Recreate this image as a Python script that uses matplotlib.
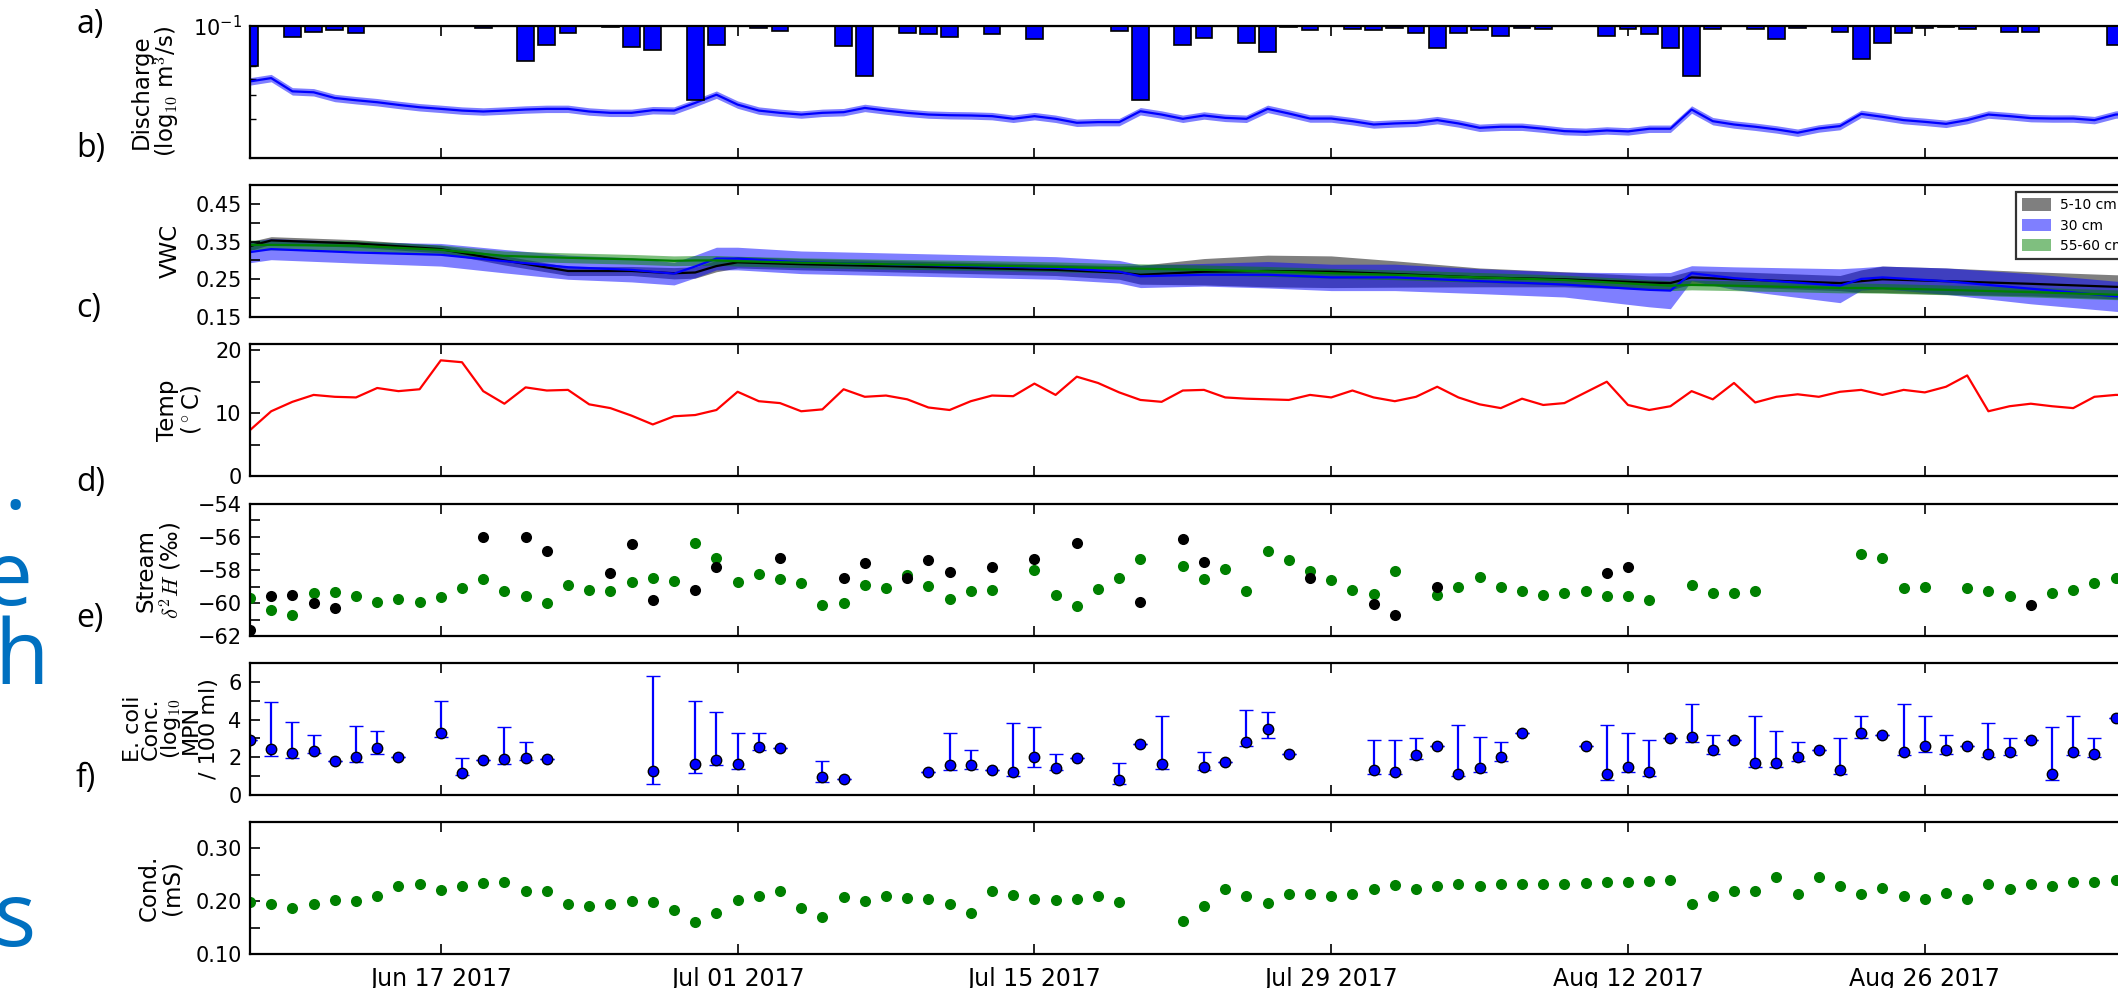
import numpy as np
import pandas as pd
import matplotlib
matplotlib.use("Agg")
import matplotlib.pyplot as plt
from matplotlib.ticker import FixedLocator, NullFormatter, LogLocator

plt.rcParams["font.family"] = ["DejaVu Sans"]

# ---------------------------------------------------------------- data
start = pd.Timestamp("2017-06-08")

# a) stream discharge (log10 m3/s), daily from start, and daily rain (mm)
discharge_log10 = [
    -1.418, -1.393, -1.493, -1.500, -1.543, -1.560, -1.575, -1.595, -1.613, -1.625,
    -1.638, -1.645, -1.638, -1.630, -1.625, -1.625, -1.645, -1.655, -1.655, -1.635,
    -1.638, -1.580, -1.518, -1.593, -1.638, -1.655, -1.668, -1.655, -1.650, -1.618,
    -1.638, -1.655, -1.668, -1.673, -1.675, -1.680, -1.700, -1.680, -1.700, -1.730,
    -1.725, -1.725, -1.643, -1.668, -1.700, -1.675, -1.693, -1.700, -1.625, -1.660,
    -1.698, -1.698, -1.718, -1.743, -1.735, -1.730, -1.710, -1.735, -1.768, -1.760,
    -1.760, -1.775, -1.793, -1.798, -1.788, -1.795, -1.775, -1.775, -1.630, -1.718,
    -1.743, -1.760, -1.780, -1.805, -1.773, -1.755, -1.663, -1.685, -1.710, -1.723,
    -1.738, -1.710, -1.668, -1.680, -1.695, -1.698, -1.698, -1.710, -1.668, -1.660,
    -1.665]
discharge_spread = 0.028

rain_days = [0, 2, 3, 4, 5, 11, 13, 14, 15, 17, 18, 19, 21, 22, 24, 25, 28, 29, 31, 32,
             33, 35, 37, 41, 42, 44, 45, 47, 48, 49, 50, 52, 53, 54, 55, 56, 57, 58, 59, 60,
             61, 64, 65, 66, 67, 68, 69, 71, 72, 73, 75, 76, 77, 78, 79, 80, 81, 83, 84, 88]
rain_mm = [12.2, 3.4, 1.7, 1.2, 2.2, 0.6, 10.5, 5.7, 2.2, 0.4, 6.5, 7.4, 22.5, 5.7, 0.7,
           1.4, 6.0, 15.0, 2.2, 2.5, 3.4, 2.5, 4.0, 1.4, 22.4, 5.7, 3.7, 5.2, 7.9, 0.4,
           1.2, 0.8, 1.2, 0.6, 2.0, 6.7, 2.2, 1.2, 2.9, 0.7, 1.0, 2.9, 1.0, 2.5, 6.7,
           15.2, 1.0, 1.0, 4.0, 0.5, 1.7, 9.9, 5.0, 2.0, 0.6, 0.4, 1.0, 1.7, 1.7, 5.7]

# b) volumetric water content by depth (mean and half-width of the band)
vwc_days = [0, 1, 5, 9, 12, 15, 18, 20, 21, 22, 23, 26, 30, 34, 38, 41, 42, 45, 48, 51,
            54, 58, 62, 66, 67, 68, 70, 75, 76, 77, 80, 84, 88, 90]
vwc_shallow = [0.338, 0.353, 0.345, 0.330, 0.300, 0.272, 0.272, 0.266, 0.268, 0.285,
               0.295, 0.290, 0.285, 0.280, 0.275, 0.268, 0.262, 0.270, 0.272, 0.270,
               0.264, 0.255, 0.250, 0.241, 0.240, 0.255, 0.250, 0.240, 0.245, 0.250,
               0.245, 0.238, 0.230, 0.228]
vwc_shallow_sd = [0.012, 0.010, 0.010, 0.010, 0.012, 0.012, 0.012, 0.015, 0.015, 0.015,
                  0.015, 0.015, 0.015, 0.015, 0.015, 0.018, 0.025, 0.035, 0.042, 0.042,
                  0.035, 0.025, 0.020, 0.018, 0.018, 0.018, 0.020, 0.020, 0.030, 0.035,
                  0.035, 0.032, 0.032, 0.032]
vwc_mid = [0.322, 0.330, 0.321, 0.315, 0.298, 0.282, 0.275, 0.265, 0.284, 0.305,
           0.305, 0.295, 0.290, 0.285, 0.280, 0.270, 0.258, 0.262, 0.262, 0.255,
           0.255, 0.245, 0.236, 0.222, 0.220, 0.266, 0.253, 0.233, 0.251, 0.255,
           0.245, 0.225, 0.205, 0.200]
vwc_mid_sd = [0.028, 0.028, 0.028, 0.030, 0.031, 0.032, 0.032, 0.030, 0.030, 0.030,
              0.030, 0.030, 0.030, 0.030, 0.030, 0.030, 0.030, 0.030, 0.035, 0.035,
              0.035, 0.033, 0.033, 0.045, 0.048, 0.020, 0.030, 0.045, 0.030, 0.030,
              0.035, 0.040, 0.040, 0.040]
vwc_deep = [0.341, 0.341, 0.339, 0.328, 0.312, 0.307, 0.303, 0.299, 0.300, 0.300,
            0.298, 0.294, 0.290, 0.287, 0.283, 0.279, 0.278, 0.275, 0.271, 0.266,
            0.262, 0.255, 0.248, 0.236, 0.233, 0.235, 0.233, 0.227, 0.227, 0.226,
            0.222, 0.216, 0.209, 0.206]
vwc_deep_sd = [0.013] * len(vwc_deep)
depth_labels = ["5-10 cm", "30 cm", "55-60 cm"]

# c) water temperature (deg C), daily from start
temp_c = [
    7.3, 10.3, 11.8, 12.9, 12.6, 12.5, 14.0, 13.5, 13.8, 18.4,
    18.1, 13.5, 11.5, 14.1, 13.6, 13.7, 11.4, 10.8, 9.6, 8.2,
    9.5, 9.7, 10.5, 13.4, 11.9, 11.6, 10.3, 10.6, 13.8, 12.6,
    12.8, 12.2, 10.9, 10.5, 11.9, 12.8, 12.7, 14.7, 12.9, 15.8,
    14.8, 13.3, 12.1, 11.8, 13.6, 13.7, 12.5, 12.3, 12.2, 12.1,
    12.9, 12.5, 13.6, 12.5, 11.9, 12.6, 14.2, 12.5, 11.4, 10.8,
    12.3, 11.3, 11.6, 13.3, 15.0, 11.3, 10.5, 11.1, 13.5, 12.2,
    14.8, 11.7, 12.6, 13.0, 12.6, 13.4, 13.7, 12.9, 13.7, 13.3,
    14.2, 16.0, 10.3, 11.1, 11.5, 11.1, 10.8, 12.6, 12.9, 12.9,
    13.0]

# d) stream d2H (permil): two sampling sets
d2h_green_days = [0, 1, 2, 3, 4, 5, 6, 7, 8, 9, 10, 11, 12, 13, 14, 15, 16, 17, 18, 19,
                  20, 21, 22, 23, 24, 25, 26, 27, 28, 29, 30, 31, 32, 33, 34, 35, 37, 38,
                  39, 40, 41, 42, 44, 45, 46, 47, 48, 49, 50, 51, 52, 53, 54, 56, 57, 58,
                  59, 60, 61, 62, 63, 64, 65, 66, 68, 69, 70, 71, 76, 77, 78, 79, 81, 82,
                  83, 85, 86, 87, 88]
d2h_green = [-59.70, -60.42, -60.73, -59.39, -59.35, -59.56, -59.91, -59.74, -59.95, -59.66,
             -59.09, -58.53, -59.29, -59.56, -60.01, -58.88, -59.19, -59.29, -58.72, -58.51,
             -58.64, -56.36, -57.28, -58.75, -58.24, -58.57, -58.79, -60.11, -60.03, -58.91,
             -59.11, -58.28, -58.97, -59.78, -59.30, -59.19, -58.03, -59.52, -60.17, -59.17,
             -58.48, -57.36, -57.75, -58.52, -57.95, -59.25, -56.87, -57.38, -58.09, -58.60,
             -59.19, -59.46, -58.07, -59.5, -59.0, -58.4, -59.0, -59.3, -59.5, -59.4,
             -59.3, -59.6, -59.6, -59.8, -58.9, -59.4, -59.4, -59.3, -57.0, -57.3,
             -59.1, -59.0, -59.1, -59.3, -59.6, -59.4, -59.2, -58.8, -58.5]
d2h_black_days = [0, 1, 2, 3, 4, 11, 13, 14, 17, 18, 19, 21, 22, 25, 28, 29, 31, 32, 33, 35,
                  37, 39, 42, 44, 45, 50, 53, 54, 56, 64, 65, 84]
d2h_black = [-61.65, -59.60, -59.50, -60.00, -60.32, -55.97, -55.97, -56.83, -58.16, -56.42,
             -59.80, -59.23, -57.79, -57.26, -58.48, -57.59, -58.50, -57.38, -58.11, -57.81,
             -57.32, -56.36, -59.91, -56.12, -57.52, -58.50, -60.09, -60.74, -59.0, -58.2,
             -57.8, -60.1]

# e) E. coli (log10 MPN / 100 ml) with lower / upper interval ends
ecoli_days = [0, 1, 2, 3, 4, 5, 6, 7, 9, 10, 11, 12, 13, 14, 19, 21, 22, 23, 24, 25,
              27, 28, 32, 33, 34, 35, 36, 37, 38, 39, 41, 42, 43, 45, 46, 47, 48, 49, 53, 54,
              55, 56, 57, 58, 59, 60, 63, 64, 65, 66, 67, 68, 69, 70, 71, 72, 73, 74, 75, 76,
              77, 78, 79, 80, 81, 82, 83, 84, 85, 86, 87, 88]
ecoli = [2.93, 2.42, 2.25, 2.33, 1.79, 2.02, 2.51, 2.02, 3.30, 1.18, 1.84, 1.93, 1.98, 1.93,
         1.28, 1.63, 1.86, 1.64, 2.57, 2.50, 0.93, 0.86, 1.20, 1.57, 1.57, 1.30, 1.20, 2.00,
         1.45, 1.95, 0.80, 2.70, 1.65, 1.50, 1.75, 2.80, 3.50, 2.20, 1.30, 1.20, 2.10, 2.60,
         1.10, 1.45, 2.00, 3.30, 2.60, 1.10, 1.50, 1.20, 3.00, 3.10, 2.40, 2.90, 1.70, 1.70,
         2.00, 2.40, 1.30, 3.30, 3.20, 2.30, 2.60, 2.40, 2.60, 2.20, 2.30, 2.90, 1.10, 2.30,
         2.20, 4.10]
ecoli_lo = [2.93, 2.05, 1.98, 2.23, 1.79, 1.75, 2.19, 2.02, 3.07, 1.05, 1.84, 1.67, 1.84, 1.93,
            0.56, 1.18, 1.60, 1.40, 2.40, 2.50, 0.70, 0.86, 1.20, 1.30, 1.40, 1.30, 1.00, 1.50,
            1.30, 1.95, 0.60, 2.70, 1.40, 1.30, 1.75, 2.60, 3.00, 2.20, 1.10, 1.10, 1.90, 2.60,
            1.00, 1.20, 1.80, 3.30, 2.60, 0.80, 1.20, 1.00, 3.00, 2.80, 2.20, 2.90, 1.50, 1.50,
            1.80, 2.40, 1.10, 3.00, 3.20, 2.10, 2.30, 2.20, 2.60, 2.00, 2.10, 2.90, 0.80, 2.10,
            2.00, 4.10]
ecoli_hi = [2.93, 4.95, 3.89, 3.16, 1.79, 3.67, 3.37, 2.02, 4.96, 1.98, 1.84, 3.60, 2.81, 1.93,
            6.32, 4.96, 4.40, 3.30, 3.30, 2.50, 1.80, 0.86, 1.20, 3.30, 2.40, 1.30, 3.80, 3.60,
            2.20, 1.95, 1.70, 2.70, 4.20, 2.30, 1.75, 4.50, 4.40, 2.20, 2.90, 2.90, 3.00, 2.60,
            3.70, 3.10, 2.80, 3.30, 2.60, 3.70, 3.30, 2.90, 3.00, 4.80, 3.20, 2.90, 4.20, 3.40,
            2.80, 2.40, 3.00, 4.20, 3.20, 4.80, 4.20, 3.20, 2.60, 3.80, 3.00, 2.90, 3.60, 4.20,
            3.00, 4.10]

# f) specific conductance (mS)
cond_days = list(range(0, 42)) + list(range(44, 89))
cond_ms = [0.198, 0.194, 0.187, 0.195, 0.203, 0.201, 0.209, 0.228, 0.232, 0.222,
           0.228, 0.234, 0.236, 0.219, 0.220, 0.194, 0.190, 0.195, 0.200, 0.199,
           0.183, 0.161, 0.177, 0.203, 0.210, 0.220, 0.188, 0.170, 0.208, 0.200,
           0.210, 0.207, 0.205, 0.195, 0.177, 0.220, 0.212, 0.205, 0.202, 0.205,
           0.210, 0.198,
           0.163, 0.190, 0.223, 0.210, 0.197, 0.213, 0.213, 0.210, 0.213, 0.223,
           0.230, 0.223, 0.228, 0.233, 0.228, 0.233, 0.232, 0.233, 0.233, 0.235,
           0.236, 0.237, 0.238, 0.240, 0.195, 0.210, 0.220, 0.220, 0.245, 0.213,
           0.245, 0.228, 0.213, 0.225, 0.210, 0.205, 0.215, 0.205, 0.233, 0.223,
           0.233, 0.228, 0.237, 0.237, 0.240]

tick_dates = ["2017-06-17", "2017-07-01", "2017-07-15", "2017-07-29",
              "2017-08-12", "2017-08-26", "2017-09-09"]
panel_letters = ["a)", "b)", "c)", "d)", "e)", "f)"]


def to_dates(days):
    return (start + pd.to_timedelta(np.asarray(days, dtype=float), unit="D")).to_numpy()


# ---------------------------------------------------------------- layout
W, H = 2118, 988
fig = plt.figure(figsize=(W / 100, H / 100), dpi=100)
left_px, px_per_day, span_days, h_px = 250, 21.2, 92, 132
tops = [26, 185, 344, 504, 663, 822]
axes = [fig.add_axes([left_px / W, 1 - (t + h_px) / H, span_days * px_per_day / W, h_px / H])
        for t in tops]

xmin = start.to_datetime64()
xmax = (start + pd.Timedelta(days=span_days)).to_datetime64()
xticks = pd.to_datetime(tick_dates).to_numpy()

TICK = 15
LBL = 16.5
for ax in axes:
    ax.set_xlim(xmin, xmax)
    ax.xaxis.set_major_locator(FixedLocator(matplotlib.dates.date2num(xticks)))
    ax.tick_params(direction="in", length=7, width=1.2, labelsize=TICK, top=True, right=True,
                   pad=6)
    for s in ax.spines.values():
        s.set_linewidth(1.6)
    if ax is not axes[-1]:
        ax.set_xticklabels([])
axes[-1].xaxis.set_major_formatter(matplotlib.dates.DateFormatter("%b %d %Y"))
axes[-1].tick_params(axis="x", pad=9, labelsize=17)

# a) discharge + rain
ax = axes[0]
qd = to_dates(np.arange(len(discharge_log10)))
lq = np.array(discharge_log10)
ax.fill_between(qd, 10 ** (lq - discharge_spread), 10 ** (lq + discharge_spread),
                color="blue", alpha=0.5, lw=0)
ax.plot(qd, 10 ** lq, color="blue", lw=1.6)
ax.set_yscale("log")
ax.set_ylim(0.0101, 0.1)
ax.yaxis.set_major_locator(LogLocator(base=10))
ax.yaxis.set_minor_locator(LogLocator(base=10, subs=np.arange(2, 10)))
ax.yaxis.set_minor_formatter(NullFormatter())
ax.tick_params(axis="y", which="minor", direction="in", length=4, width=1, right=True)
axr = ax.twinx()
axr.bar(to_dates(rain_days), rain_mm, width=0.8, color="blue", edgecolor="black", lw=1.2)
axr.set_ylim(40, 0)
axr.set_xlim(xmin, xmax)
axr.set_yticks([])
ax.set_ylabel("Discharge\n(log$_{10}$ m$^3$/s)", fontsize=LBL, math_fontfamily="cm",
              linespacing=1.0)

# b) VWC
ax = axes[1]
vd = to_dates(vwc_days)
series = [(vwc_shallow, vwc_shallow_sd, "black"), (vwc_mid, vwc_mid_sd, "blue"),
          (vwc_deep, vwc_deep_sd, "green")]
for (m, sd, c), lab in zip(series, depth_labels):
    m, sd = np.array(m), np.array(sd)
    ax.fill_between(vd, m - sd, m + sd, color=c, alpha=0.5, lw=0, label=lab)
for m, sd, c in series:
    ax.plot(vd, m, color=c, lw=1.6)
ax.set_ylim(0.15, 0.50)
ax.set_yticks([0.15, 0.20, 0.25, 0.30, 0.35, 0.40, 0.45, 0.50])
ax.set_yticklabels(["0.15", "", "0.25", "", "0.35", "", "0.45", ""])
ax.set_ylabel("VWC", fontsize=LBL)
leg = fig.legend(loc="upper left", bbox_to_anchor=(2016 / W, 1 - 192 / H), fontsize=10,
                 frameon=True, fancybox=False, edgecolor="black", handlelength=2.1,
                 handleheight=1.0, handletextpad=0.6, borderpad=0.45, labelspacing=0.45,
                 borderaxespad=0, handles=ax.collections[:3], labels=depth_labels)
leg.get_frame().set_linewidth(1.6)

# c) temperature
ax = axes[2]
ax.plot(to_dates(np.arange(len(temp_c))), temp_c, color="red", lw=1.6)
ax.set_ylim(0, 21)
ax.set_yticks([0, 5, 10, 15, 20])
ax.set_yticklabels(["0", "", "10", "", "20"])
ax.set_ylabel("Temp\n($^\\circ$C)", fontsize=LBL, math_fontfamily="cm", linespacing=1.0)

# d) stream d2H
ax = axes[3]
ax.plot(to_dates(d2h_green_days), d2h_green, "o", color="green", ms=8, mew=0)
ax.plot(to_dates(d2h_black_days), d2h_black, "o", color="black", ms=8, mew=0)
ax.set_ylim(-62, -54)
ax.set_yticks(np.arange(-62, -53, 1))
ax.set_yticklabels(["\u221262", "", "\u221260", "", "\u221258", "", "\u221256", "", "\u221254"])
ax.set_ylabel("Stream\n$\\delta^2H$ (\u2030)", fontsize=LBL, math_fontfamily="cm",
              linespacing=1.0)

# e) E. coli
ax = axes[4]
ev = np.array(ecoli)
yerr = [ev - np.array(ecoli_lo), np.array(ecoli_hi) - ev]
ax.errorbar(to_dates(ecoli_days), ev, yerr=yerr, fmt="o", color="blue", ecolor="blue",
            mec="black", mew=1, ms=7.5, elinewidth=1.6, capsize=5, capthick=1.6)
ax.set_ylim(0, 7)
ax.set_yticks(np.arange(0, 8, 1))
ax.set_yticklabels(["0", "", "2", "", "4", "", "6", ""])
ax.set_ylabel("E. coli\nConc.\n(log$_{10}$\nMPN\n/ 100 ml)", fontsize=16,
              math_fontfamily="cm", linespacing=0.88)

# f) conductance
ax = axes[5]
ax.plot(to_dates(cond_days), cond_ms, "o", color="green", ms=8, mew=0)
ax.set_ylim(0.10, 0.35)
ax.set_yticks([0.10, 0.15, 0.20, 0.25, 0.30, 0.35])
ax.set_yticklabels(["0.10", "", "0.20", "", "0.30", ""])
ax.set_ylabel("Cond.\n(mS)", fontsize=LBL, linespacing=1.0)

label_right = [-0.035, -0.035, -0.024, -0.034, -0.016, -0.034]
for ax, x in zip(axes, label_right):
    ax.yaxis.set_label_coords(x, 0.5)

# panel letters
letter_y = [24, 149, 308, 482, 619, 778]
for s, y in zip(panel_letters, letter_y):
    fig.text(76 / W, 1 - y / H, s, fontsize=23, family="Open Sans", ha="left", va="center")

# slide text peeking in at the left edge
for ch, x, y in [("e", -17, 605), ("h", -6, 684), ("s", -6, 946), (".", 3, 509)]:
    fig.text(x / W, 1 - y / H, ch, fontsize=64, family="Open Sans", color="#0070C0",
             ha="left", va="baseline")

fig.savefig("out.png", dpi=100)
